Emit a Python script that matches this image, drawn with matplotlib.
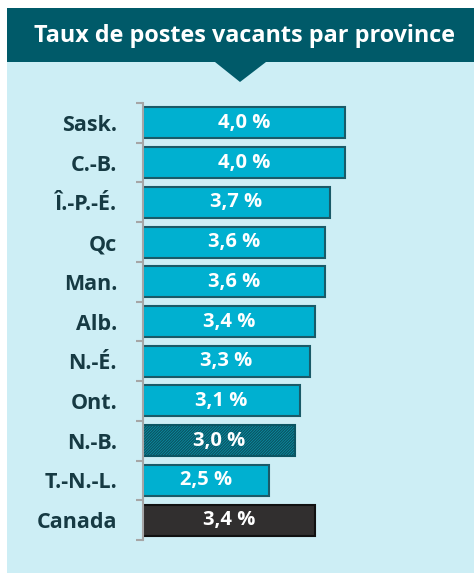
import matplotlib.pyplot as plt
from matplotlib.patches import Rectangle, Polygon
import numpy as np

plt.rcParams['font.family'] = ['Open Sans', 'DejaVu Sans']
plt.rcParams['hatch.color'] = '#0b5563'
plt.rcParams['hatch.linewidth'] = 1.0

provinces = ['Sask.', 'C.-B.', 'Î.-P.-É.', 'Qc', 'Man.', 'Alb.', 'N.-É.', 'Ont.', 'N.-B.', 'T.-N.-L.', 'Canada']
taux = [4.0, 4.0, 3.7, 3.6, 3.6, 3.4, 3.3, 3.1, 3.0, 2.5, 3.4]
etiquettes = ['4,0 %', '4,0 %', '3,7 %', '3,6 %', '3,6 %', '3,4 %', '3,3 %', '3,1 %', '3,0 %', '2,5 %', '3,4 %']

W, H = 474, 573
fig = plt.figure(figsize=(W / 100, H / 100), dpi=100)
fig.patch.set_facecolor('white')

# fond du panneau
fig.patches.append(Rectangle((7 / W, 0), 1 - 7 / W, 1 - 62 / H, transform=fig.transFigure,
                             facecolor='#cdeef5', edgecolor='none', zorder=-2))
# bandeau du titre
fig.patches.append(Rectangle((7 / W, 1 - 62 / H), 1 - 7 / W, 54 / H, transform=fig.transFigure,
                             facecolor='#005a69', edgecolor='none', zorder=-2))
fig.patches.append(Polygon([(215 / W, 1 - 62 / H), (266 / W, 1 - 62 / H), (240 / W, 1 - 82 / H)],
                           closed=True, transform=fig.transFigure,
                           facecolor='#005a69', edgecolor='none', zorder=-2))
fig.text(245 / W, 1 - 36 / H, 'Taux de postes vacants par province', color='white',
         fontsize=16.8, fontweight='bold', ha='center', va='center')

ax = fig.add_axes([143 / W, 1 - 540 / H, 303 / W, 437 / H])
ax.set_facecolor('none')

y = np.arange(len(provinces))
couleurs = ['#00b0d0'] * len(provinces)
couleurs[-1] = '#312f2f'
bars = ax.barh(y, taux, height=0.78, color=couleurs, edgecolor='#1a5a68', linewidth=1.5, zorder=2)
bars[-1].set_edgecolor('#111111')
nb = provinces.index('N.-B.')
bars[nb].set_facecolor('#0a9fb9')
bars[nb].set_hatch('/' * 12)
bars[nb].set_edgecolor('#0b5563')

for i in range(len(provinces)):
    ax.text(taux[i] / 2, y[i], etiquettes[i], color='white', fontsize=14.5,
            fontweight='bold', ha='center', va='center', zorder=3)

ax.set_xlim(0, 6)
ax.set_ylim(len(provinces) - 0.5, -0.5)
ax.set_xticks([])
ax.set_yticks(y)
ax.set_yticklabels(provinces, fontsize=15.5, fontweight='bold', color='#163a43')
ax.tick_params(axis='y', which='major', length=0, pad=18.7)
ax.set_yticks(np.arange(-0.5, len(provinces), 1), minor=True)
ax.tick_params(axis='y', which='minor', length=5, width=1.5, color='#a6a6a6', direction='out')
for s in ['top', 'right', 'bottom']:
    ax.spines[s].set_visible(False)
ax.spines['left'].set_color('#a6a6a6')
ax.spines['left'].set_linewidth(1.5)

fig.savefig('out.png', dpi=100)
